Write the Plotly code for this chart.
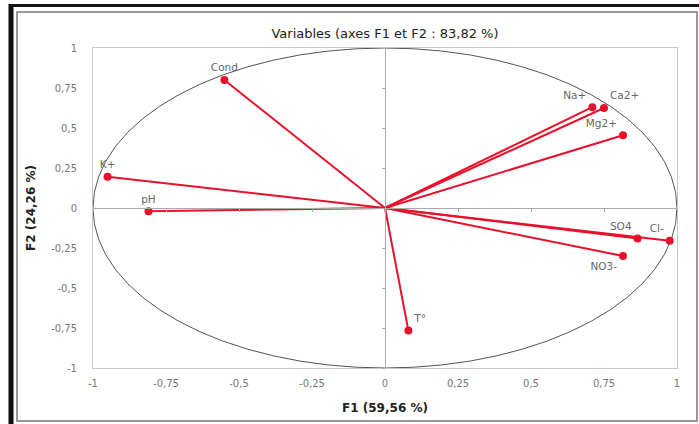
import plotly.graph_objects as go

# ---- data ----
variables = ["Cond", "K+", "pH", "Na+", "Ca2+", "Mg2+", "SO4", "Cl-", "NO3-", "T°"]
f1 = [-0.55, -0.95, -0.81, 0.71, 0.75, 0.815, 0.865, 0.975, 0.815, 0.08]
f2 = [0.80, 0.195, -0.02, 0.63, 0.625, 0.455, -0.19, -0.205, -0.30, -0.765]
label_pos = ["top center", "top center", "top center", "top left", "top right",
             "top left", "top left", "top left", "bottom left", "top right"]
tick_vals = [-1, -0.75, -0.5, -0.25, 0, 0.25, 0.5, 0.75, 1]
tick_text = ["-1", "-0,75", "-0,5", "-0,25", "0", "0,25", "0,5", "0,75", "1"]

W, H = 699, 424
L, R, T, B = 93, 22, 48, 56

def px(xp):
    return (xp - L) / (W - L - R)

def py(yp):
    return 1 - (yp - T) / (H - T - B)

RED = "#e8102a"

fig = go.Figure()

# vectors from origin
lx, ly = [], []
for a, b in zip(f1, f2):
    lx += [0, a, None]
    ly += [0, b, None]
fig.add_trace(go.Scatter(x=lx, y=ly, mode="lines",
                         line=dict(color=RED, width=2), hoverinfo="skip",
                         showlegend=False))
fig.add_trace(go.Scatter(x=f1, y=f2, mode="markers+text", text=variables,
                         textposition=label_pos,
                         textfont=dict(family="DejaVu Sans", size=10.5, color="#666"),
                         marker=dict(color=RED, size=8),
                         showlegend=False))

# correlation circle
fig.add_shape(type="circle", xref="x", yref="y", x0=-1, y0=-1, x1=1, y1=1,
              line=dict(color="#555", width=1), layer="below")

# outer frame
fig.add_shape(type="line", xref="paper", yref="paper", x0=px(11), x1=px(11),
              y0=py(4), y1=py(424), line=dict(color="#111", width=5))
fig.add_shape(type="line", xref="paper", yref="paper", x0=px(9), x1=px(699),
              y0=py(5.5), y1=py(5.5), line=dict(color="#111", width=3))
fig.add_shape(type="rect", xref="paper", yref="paper", x0=px(17), x1=px(697),
              y0=py(421), y1=py(12), line=dict(color="#999", width=2))

axis_common = dict(range=[-1, 1], tickvals=tick_vals, ticktext=tick_text,
                   showgrid=False, zeroline=False, showline=True, mirror=True,
                   linecolor="#c8c8c8", linewidth=1, ticks="",
                   tickfont=dict(family="DejaVu Sans", size=10, color="#777"),
                   fixedrange=True)

TITLE_FONT = dict(family="DejaVu Sans", size=12, color="#222")

fig.update_layout(
    width=W, height=H,
    margin=dict(l=L, r=R, t=T, b=B),
    paper_bgcolor="white", plot_bgcolor="white",
    title=dict(text="Variables (axes F1 et F2 : 83,82 %)", x=385 / W,
               xanchor="center", xref="container", y=1 - 33 / H, yref="container",
               yanchor="middle", font=dict(family="DejaVu Sans", size=13, color="#222")),
    xaxis=dict(**axis_common, ticklabelstandoff=6,
               title=dict(text="<b>F1 (59,56 %)</b>", standoff=15, font=TITLE_FONT)),
    yaxis=dict(**axis_common, ticklabelstandoff=13,
               title=dict(text="<b>F2 (24,26 %)</b>", standoff=12, font=TITLE_FONT)),
    xaxis2=dict(overlaying="x", matches="x", anchor="free", position=0.5,
                showline=True, linecolor="#aaa", linewidth=1, ticks="outside",
                ticklen=3, tickcolor="#aaa", tickvals=tick_vals,
                showticklabels=False, showgrid=False, zeroline=False, fixedrange=True),
    yaxis2=dict(overlaying="y", matches="y", anchor="free", position=0.5,
                showline=True, linecolor="#aaa", linewidth=1, ticks="outside",
                ticklen=3, tickcolor="#aaa", tickvals=tick_vals,
                showticklabels=False, showgrid=False, zeroline=False, fixedrange=True),
)
# dummy trace to activate secondary axes
fig.add_trace(go.Scatter(x=[None], y=[None], xaxis="x2", yaxis="y2",
                         showlegend=False, hoverinfo="skip"))

fig.write_html("out.html", config={"displayModeBar": False},
               post_script="document.body.style.margin='0px';")
